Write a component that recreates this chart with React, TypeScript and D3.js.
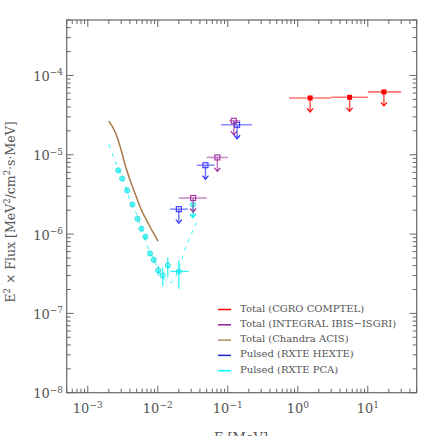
import React from "react";
import * as d3 from "d3";

// ---- data ----
const comptelE = [1.5, 5.5, 17];
const comptelElo = [0.75, 3, 10];
const comptelEhi = [3, 10, 30];
const comptelF = [5.2e-5, 5.3e-5, 6.2e-5];

const isgriE = [0.032, 0.071, 0.122];
const isgriElo = [0.02, 0.05, 0.105];
const isgriEhi = [0.05, 0.1, 0.15];
const isgriF = [2.85e-6, 9.25e-6, 2.68e-5];

const hexteE = [0.02, 0.048, 0.136];
const hexteElo = [0.015, 0.036, 0.08];
const hexteEhi = [0.027, 0.065, 0.223];
const hexteF = [2.06e-6, 7.38e-6, 2.39e-5];

const pcaE = [2.72e-3, 3.1e-3, 3.65e-3, 4.35e-3, 5.13e-3, 5.83e-3, 6.67e-3, 7.74e-3, 8.77e-3, 1.017e-2, 1.175e-2, 1.39e-2, 2.0e-2];
const pcaElo = [2.72e-3, 3.1e-3, 3.65e-3, 4.35e-3, 5.13e-3, 5.83e-3, 6.67e-3, 7.74e-3, 8.77e-3, 1.017e-2, 1.175e-2, 1.39e-2, 1.52e-2];
const pcaEhi = [2.72e-3, 3.1e-3, 3.65e-3, 4.35e-3, 5.13e-3, 5.83e-3, 6.67e-3, 7.74e-3, 8.77e-3, 1.017e-2, 1.175e-2, 1.39e-2, 2.77e-2];
const pcaF = [6.34e-6, 5.02e-6, 3.55e-6, 2.36e-6, 1.56e-6, 1.17e-6, 9.25e-7, 5.69e-7, 4.74e-7, 3.48e-7, 3.01e-7, 4.02e-7, 3.38e-7];
const pcaFlo = [6.0e-6, 4.75e-6, 3.35e-6, 2.22e-6, 1.47e-6, 1.1e-6, 8.6e-7, 5.3e-7, 4.4e-7, 3.0e-7, 2.18e-7, 2.84e-7, 2.04e-7];
const pcaFhi = [6.7e-6, 5.3e-6, 3.75e-6, 2.5e-6, 1.65e-6, 1.24e-6, 9.9e-7, 6.1e-7, 5.1e-7, 4.0e-7, 3.79e-7, 5.07e-7, 4.65e-7];
const pcaUlE = [0.0318];
const pcaUlF = [2.36e-6];

const pcaModelE = [2.0e-3, 2.35e-3, 2.9e-3, 3.46e-3, 4.07e-3, 4.8e-3, 5.8e-3, 7.44e-3, 9.28e-3, 1.09e-2, 1.3e-2, 1.52e-2, 1.79e-2, 2.1e-2, 2.49e-2, 2.93e-2, 3.57e-2];
const pcaModelF = [1.35e-5, 9.17e-6, 6.0e-6, 4.02e-6, 2.55e-6, 1.93e-6, 1.2e-6, 6.4e-7, 4.35e-7, 3.1e-7, 2.6e-7, 2.45e-7, 2.84e-7, 4.2e-7, 6.72e-7, 9.41e-7, 1.39e-6];

const acisE = [2.0e-3, 2.49e-3, 2.93e-3, 3.46e-3, 4.07e-3, 4.8e-3, 5.66e-3, 7.44e-3, 1.01e-2];
const acisF = [2.65e-5, 1.89e-5, 1.23e-5, 7.18e-6, 4.65e-6, 3.16e-6, 2.15e-6, 1.32e-6, 8.13e-7];

const legendLabels = [
  "Total (CGRO COMPTEL)",
  "Total (INTEGRAL IBIS\u2212ISGRI)",
  "Total (Chandra ACIS)",
  "Pulsed (RXTE HEXTE)",
  "Pulsed (RXTE PCA)",
];
const legendColors = ["#ff0000", "#9a1a9a", "#b08860", "#2222cc", "#00ffff"];

const xTickExps = [-3, -2, -1, 0, 1];
const yTickExps = [-8, -7, -6, -5, -4];

// ---- layout ----
const W = 436, H = 436;
const L = 66.7, R = 416.7, T = 20, B = 392.7;
const FONT = "'DejaVu Serif', serif";
const AX = "#666";
const TXT = "#555";

const x = d3.scaleLog().domain([5e-4, 50]).range([L, R]);
const y = d3.scaleLog().domain([1e-8, 5e-4]).range([B, T]);

function minorTicks(dom: number[]) {
  const out: { v: number; major: boolean }[] = [];
  for (let e = -10; e <= 3; e++) {
    for (let m = 1; m <= 9; m++) {
      const v = m * Math.pow(10, e);
      if (v >= dom[0] * 0.999 && v <= dom[1] * 1.001) out.push({ v, major: m === 1 });
    }
  }
  return out;
}

function UpperLimit({ e, elo, ehi, f, color, marker }: any) {
  const px = x(e), py = y(f);
  const len = 14;
  return (
    <g>
      <line x1={x(elo)} x2={x(ehi)} y1={py} y2={py} stroke={color} strokeWidth={1.6} strokeOpacity={0.55} />
      <line x1={px} x2={px} y1={py} y2={py + len} stroke={color} strokeWidth={1.4} strokeOpacity={0.7} />
      <path d={`M${px - 3},${py + len - 3.5}L${px},${py + len}L${px + 3},${py + len - 3.5}`} fill="none" stroke={color} strokeWidth={1.2} />
      {marker === "filled" ? (
        <rect x={px - 2.5} y={py - 2.5} width={5} height={5} fill={color} />
      ) : (
        <rect x={px - 2.5} y={py - 2.5} width={5} height={5} fill="none" stroke={color} strokeWidth={1.1} />
      )}
    </g>
  );
}

function Label({ exp, ...rest }: any) {
  return (
    <text fontFamily={FONT} fontSize={13} fill={TXT} {...rest}>
      10
      <tspan fontSize={9} dy={-5.5}>{exp < 0 ? "\u2212" + Math.abs(exp) : String(exp)}</tspan>
    </text>
  );
}

export default function App() {
  const xt = minorTicks(x.domain());
  const yt = minorTicks(y.domain());
  const lineGen = d3.line<[number, number]>().x((d) => x(d[0])).y((d) => y(d[1])).curve(d3.curveMonotoneX);
  const acisPath = lineGen(acisE.map((e, i) => [e, acisF[i]] as [number, number])) || "";
  const modelPath = lineGen(pcaModelE.map((e, i) => [e, pcaModelF[i]] as [number, number])) || "";
  const cyan = "#00f0f0";

  return (
    <svg width={W} height={H} style={{ position: "absolute", left: 0, top: 0, background: "#fff" }}>
      {/* frame */}
      <rect x={L} y={T} width={R - L} height={B - T} fill="none" stroke={AX} strokeWidth={1.2} />
      {xt.map((t, i) => {
        const px = x(t.v);
        const len = t.major ? 7 : 4;
        return (
          <g key={"xt" + i}>
            <line x1={px} x2={px} y1={B} y2={B - len} stroke={AX} strokeWidth={1} />
            <line x1={px} x2={px} y1={T} y2={T + len} stroke={AX} strokeWidth={1} />
          </g>
        );
      })}
      {yt.map((t, i) => {
        const py = y(t.v);
        const len = t.major ? 7 : 4;
        return (
          <g key={"yt" + i}>
            <line x1={L} x2={L + len} y1={py} y2={py} stroke={AX} strokeWidth={1} />
            <line x1={R} x2={R - len} y1={py} y2={py} stroke={AX} strokeWidth={1} />
          </g>
        );
      })}
      {xTickExps.map((e) => (
        <Label key={"xl" + e} exp={e} x={x(Math.pow(10, e))} y={413} textAnchor="middle" />
      ))}
      {yTickExps.map((e) => (
        <Label key={"yl" + e} exp={e} x={63} y={y(Math.pow(10, e)) + 5.5} textAnchor="end" />
      ))}
      {/* axis titles */}
      <text x={241} y={442} fontFamily={FONT} fontSize={13} fill={TXT} textAnchor="middle">
        E [MeV]
      </text>
      <text transform={`translate(15,212) rotate(-90)`} fontFamily={FONT} fontSize={12.5} fill={TXT} textAnchor="middle">
        E<tspan fontSize={8.5} dy={-5}>2</tspan>
        <tspan dy={5}> × Flux [MeV</tspan>
        <tspan fontSize={8.5} dy={-5}>2</tspan>
        <tspan dy={5}>/cm</tspan>
        <tspan fontSize={8.5} dy={-5}>2</tspan>
        <tspan dy={5}>·s·MeV]</tspan>
      </text>

      {/* Chandra ACIS */}
      <path d={acisPath} fill="none" stroke="#a87848" strokeWidth={1.5} />
      {/* PCA model */}
      <path d={modelPath} fill="none" stroke={cyan} strokeWidth={1} strokeDasharray="4,5" strokeOpacity={0.8} />
      {/* PCA points */}
      {pcaE.map((e, i) => (
        <g key={"pca" + i}>
          <line x1={x(pcaElo[i])} x2={x(pcaEhi[i])} y1={y(pcaF[i])} y2={y(pcaF[i])} stroke={cyan} strokeWidth={1.3} strokeOpacity={0.8} />
          <line x1={x(e)} x2={x(e)} y1={y(pcaFlo[i])} y2={y(pcaFhi[i])} stroke={cyan} strokeWidth={1.3} strokeOpacity={0.8} />
          <circle cx={x(e)} cy={y(pcaF[i])} r={2.6} fill={cyan} fillOpacity={0.45} stroke="#20e0e0" strokeWidth={0.9} />
        </g>
      ))}
      {pcaUlE.map((e, i) => (
        <g key={"pul" + i}>
          <line x1={x(e)} x2={x(e)} y1={y(pcaUlF[i])} y2={y(pcaUlF[i]) + 13} stroke={cyan} strokeWidth={1.3} />
          <path d={`M${x(e) - 3},${y(pcaUlF[i]) + 9.5}L${x(e)},${y(pcaUlF[i]) + 13}L${x(e) + 3},${y(pcaUlF[i]) + 9.5}`} fill="none" stroke={cyan} strokeWidth={1.2} />
          <circle cx={x(e)} cy={y(pcaUlF[i])} r={2.6} fill={cyan} fillOpacity={0.45} stroke="#20e0e0" strokeWidth={0.9} />
        </g>
      ))}
      {/* HEXTE */}
      {hexteE.map((e, i) => (
        <UpperLimit key={"hx" + i} e={e} elo={hexteElo[i]} ehi={hexteEhi[i]} f={hexteF[i]} color="#3030ff" marker="open" />
      ))}
      {/* ISGRI */}
      {isgriE.map((e, i) => (
        <UpperLimit key={"is" + i} e={e} elo={isgriElo[i]} ehi={isgriEhi[i]} f={isgriF[i]} color="#a030a0" marker="open" />
      ))}
      {/* COMPTEL */}
      {comptelE.map((e, i) => (
        <UpperLimit key={"cp" + i} e={e} elo={comptelElo[i]} ehi={comptelEhi[i]} f={comptelF[i]} color="#ff0000" marker="filled" />
      ))}

      {/* legend */}
      {legendLabels.map((lab, i) => {
        const ly = 308.5 + i * 15.3;
        return (
          <g key={"lg" + i}>
            <line x1={218} x2={231} y1={ly + 1} y2={ly + 1} stroke={legendColors[i]} strokeWidth={1.5} />
            <text x={240} y={ly + 3} fontFamily={FONT} fontSize={10} fill={TXT}>
              {lab}
            </text>
          </g>
        );
      })}
    </svg>
  );
}
